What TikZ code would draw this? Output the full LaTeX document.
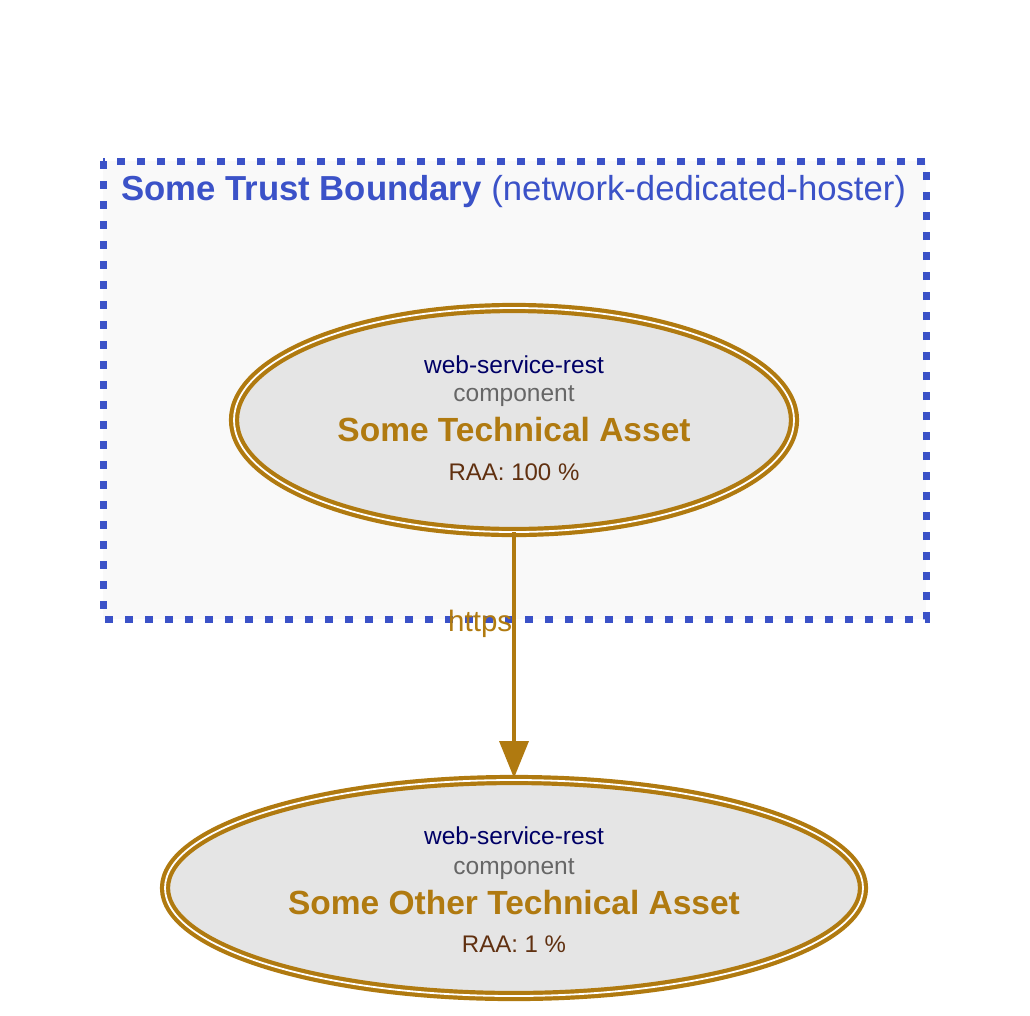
\documentclass[tikz,border=0pt]{standalone}
\usepackage{fontspec}
\setmainfont{Liberation Sans}
\usetikzlibrary{arrows.meta,shapes.geometric}
\definecolor{assetgold}{RGB}{176,122,16}
\definecolor{tbblue}{RGB}{59,82,200}
\definecolor{tbfill}{RGB}{249,249,249}
\definecolor{assetfill}{RGB}{229,229,229}
\definecolor{navytext}{RGB}{0,0,102}
\definecolor{graytext}{RGB}{102,102,102}
\definecolor{raatext}{RGB}{96,48,16}
\tikzset{
  asset/.style={ellipse, draw=assetgold, double=white, double distance=1.8pt, line width=4.2pt,
    fill=assetfill, inner sep=0pt, outer sep=0pt},
  typetext/.style={anchor=base, text=navytext, font=\fontsize{24.5}{28}\selectfont},
  comptext/.style={anchor=base, text=graytext, font=\fontsize{24.5}{28}\selectfont},
  titletext/.style={anchor=base, text=assetgold, font=\fontsize{33.5}{38}\selectfont\bfseries},
  raa/.style={anchor=base, text=raatext, font=\fontsize{24}{28}\selectfont},
  boundary/.style={draw=tbblue, fill=tbfill, line width=7pt, dash pattern=on 8pt off 12pt},
  flow/.style={draw=assetgold, line width=3.6pt, -{Triangle[length=37pt,width=29pt]}},
  flowlabel/.style={anchor=base west, text=assetgold, font=\fontsize{29.5}{34}\selectfont, inner sep=0pt}
}
\begin{document}
\begin{tikzpicture}[x=1pt,y=-1pt]
\useasboundingbox[fill=white] (0,0) rectangle (1030,1015);
% trust boundary
\draw[boundary] (103,161) rectangle (926,619);
\node[anchor=base west, inner sep=0pt, text=tbblue, font=\fontsize{34.7}{40}\selectfont] (tblabel) at (121,200)
  {\textbf{Some Trust Boundary} (network-dedicated-hoster)};
% assets
\node[asset, minimum width=560pt, minimum height=224pt] (a1) at (514,420) {};
\node[typetext] (a1type) at (514,373) {web-service-rest};
\node[comptext] (a1comp) at (514,401) {component};
\node[titletext] (a1title) at (514,441) {Some Technical Asset};
\node[raa] (a1raa) at (514,480) {RAA: 100 \%};

\node[asset, minimum width=698pt, minimum height=216pt] (a2) at (514,888) {};
\node[typetext] (a2type) at (514,844) {web-service-rest};
\node[comptext] (a2comp) at (514,874) {component};
\node[titletext] (a2title) at (514,914) {Some Other Technical Asset};
\node[raa] (a2raa) at (514,952) {RAA: 1 \%};
% flow
\draw[flow, shorten >=2pt] (a1.south) -- (a2.north);
\node[flowlabel] (https) at (448,631) {https};
\end{tikzpicture}
\end{document}
